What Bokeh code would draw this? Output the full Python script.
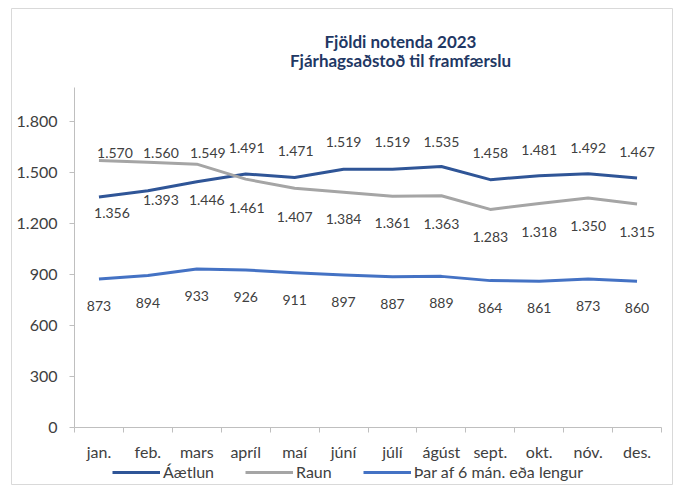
from bokeh.plotting import figure
from bokeh.models import Range1d, FixedTicker, Legend, LegendItem, Label, ColumnDataSource
from bokeh.core.properties import value
from bokeh.embed import file_html
from bokeh.resources import INLINE

# ---- data ----
months = ["jan.", "feb.", "mars", "apríl", "maí", "júní", "júlí", "ágúst",
          "sept.", "okt.", "nóv.", "des."]
aaetlun = [1356, 1393, 1446, 1491, 1471, 1519, 1519, 1535, 1458, 1481, 1492, 1467]
raun = [1570, 1560, 1549, 1461, 1407, 1384, 1361, 1363, 1283, 1318, 1350, 1315]
sex_man = [873, 894, 933, 926, 911, 897, 887, 889, 864, 861, 873, 860]
y_ticks = [0, 300, 600, 900, 1200, 1500, 1800]
y_max = 2000
series_names = ["Áætlun", "Raun", "Þar af 6 mán. eða lengur"]
title_lines = ["Fjöldi notenda 2023", "Fjárhagsaðstoð til framfærslu"]

# ---- label placement (screen px, + = down / right) ----
aaetlun_dy = [16, 9, 18, -26, -26, -27, -27, -25, -27, -26, -26, -26]
aaetlun_dx = [13, 13, 10, 1, 1, 0, 0, 0, 0, 0, 0, 0]
raun_dy = [-8, -9, -11, 29, 29, 27, 27, 28, 28, 29, 28, 28]
raun_dx = [16, 13, 11, 1, 0, 0, 0, 0, 0, 0, 0, 0]
sex_dy = [27] * 12
sex_dx = [0] * 12

# ---- layout (page pixels) ----
W, H = 673, 485
FRAME_L, FRAME_T = 11, 8          # chart border
AX_L, AX_R, AX_T, AX_B = 74, 661, 87, 427   # plot area

colors = ["#2F5597", "#A5A5A5", "#4472C4"]
FONT = "Lato"
TXT = "#404040"
AXIS = "#BFBFBF"

def fmt(v):
    return f"{v:,}".replace(",", ".")

xs = list(range(len(months)))
n = len(months)
ppx = (AX_R - AX_L) / n
ppy = (AX_B - AX_T) / y_max
x_range = Range1d(-0.5 - (AX_L - FRAME_L) / ppx, n - 0.5 + (W - AX_R) / ppx)
y_range = Range1d(-(H - AX_B) / ppy, y_max + (AX_T - FRAME_T) / ppy)

p = figure(width=W, height=H, output_backend="svg", toolbar_location=None,
           x_range=x_range, y_range=y_range,
           min_border_left=FRAME_L, min_border_right=0, min_border_top=FRAME_T,
           min_border_bottom=0)
p.title = None
p.outline_line_color = "#D9D9D9"
p.outline_line_width = 1
p.xgrid.visible = False
p.ygrid.visible = False
p.background_fill_color = "white"
p.border_fill_color = "white"

# axes (drawn inside the frame at the plot-area edges)
p.yaxis.fixed_location = -0.5
p.yaxis.bounds = (0, y_max)
p.yaxis.ticker = FixedTicker(ticks=y_ticks)
p.yaxis.major_label_overrides = {t: fmt(t) for t in y_ticks}
p.yaxis.axis_line_color = AXIS
p.yaxis.major_tick_line_color = AXIS
p.yaxis.major_tick_out = 5
p.yaxis.major_tick_in = 0
p.yaxis.minor_tick_line_color = None
p.yaxis.major_label_standoff = 12
p.yaxis.major_label_text_font = FONT
p.yaxis.major_label_text_font_size = "16px"
p.yaxis.major_label_text_color = TXT

p.xaxis.fixed_location = 0
p.xaxis.bounds = (-0.5, n - 0.5)
p.xaxis.ticker = FixedTicker(ticks=xs, minor_ticks=[i - 0.5 for i in range(n + 1)])
p.xaxis.major_label_overrides = {i: m for i, m in enumerate(months)}
p.xaxis.axis_line_color = AXIS
p.xaxis.major_tick_line_color = None
p.xaxis.major_tick_out = 0
p.xaxis.major_tick_in = 0
p.xaxis.minor_tick_line_color = AXIS
p.xaxis.minor_tick_out = 5
p.xaxis.minor_tick_in = 0
p.xaxis.major_label_standoff = 9
p.xaxis.major_label_text_font = FONT
p.xaxis.major_label_text_font_size = "16px"
p.xaxis.major_label_text_color = TXT

renderers = []
for vals, col, dy, dx in [(aaetlun, colors[0], aaetlun_dy, aaetlun_dx),
                          (raun, colors[1], raun_dy, raun_dx),
                          (sex_man, colors[2], sex_dy, sex_dx)]:
    src = ColumnDataSource(dict(x=xs, y=vals, t=[fmt(v) for v in vals], dy=dy, dx=dx))
    r = p.line("x", "y", source=src, line_color=col, line_width=3, line_join="round")
    renderers.append(r)
    p.text("x", "y", text="t", source=src, x_offset="dx", y_offset="dy",
           text_align="center", text_baseline="middle",
           text_font=value(FONT), text_font_size="14px", text_color=TXT)

legend = Legend(items=[LegendItem(label=nm, renderers=[r]) for nm, r in zip(series_names, renderers)],
                orientation="horizontal", location=(112 - FRAME_L, 4),
                glyph_width=48, glyph_height=18, label_height=18, label_standoff=3,
                spacing=31, padding=0, margin=0, border_line_color=None,
                background_fill_alpha=0, label_text_font=FONT,
                label_text_font_size="16px", label_text_color=TXT)
p.add_layout(legend)

for line_text, cy in zip(title_lines, [41, 60]):
    p.add_layout(Label(x=400 - FRAME_L, y=H - cy, x_units="screen", y_units="screen",
                       text=line_text, text_align="center", text_baseline="middle",
                       text_font=FONT, text_font_style="bold", text_font_size="17px",
                       text_color="#1F3864"))

open("out.html", "w").write(file_html(p, INLINE))
